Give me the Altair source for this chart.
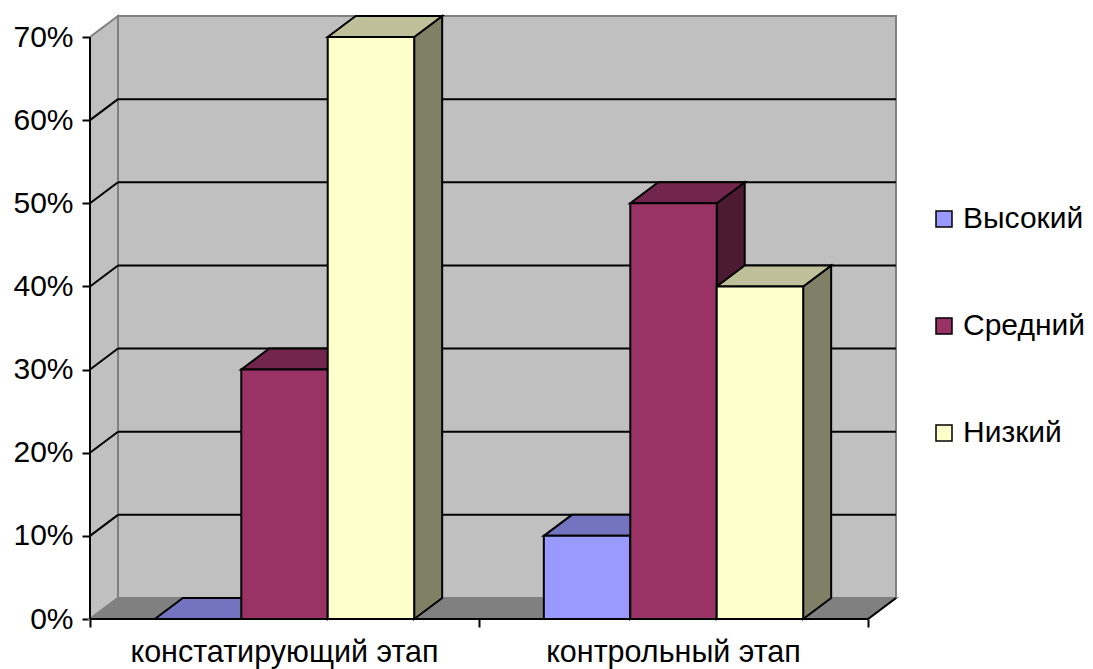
import altair as alt
import pandas as pd

# ---- data -------------------------------------------------------------
categories = ["констатирующий этап", "контрольный этап"]
series = ["Высокий", "Средний", "Низкий"]
vysokiy = [0, 10]
sredniy = [30, 50]
nizkiy = [70, 40]
y_ticks = [0, 10, 20, 30, 40, 50, 60, 70]

# face colours: front, top (darker), side (darkest)
front_colors = ["#9999FF", "#993366", "#FFFFCC"]
top_colors = ["#7373BF", "#73264D", "#BFBF99"]
side_colors = ["#4D4D80", "#4D1A33", "#808066"]

# ---- 3-D geometry in data units ---------------------------------------
Y_MAX = 70
DX = 28 / 389          # depth shift along x (category units)
DY = 2.526             # depth shift along y (percent units)
GAP = 0.75 / 4.5       # half gap on each side of a bar cluster
BW = 1 / 4.5           # bar width
NCAT = len(categories)
FONT = "Liberation Sans"

values = [vysokiy, sredniy, nizkiy]

fronts, tops, sides = [], [], []
for ci in range(NCAT):
    for si, name in enumerate(series):
        v = values[si][ci]
        x0 = ci + GAP + si * BW
        x1 = x0 + BW
        key = f"{ci}-{si}"
        fronts.append({"x0": x0, "x1": x1, "y0": 0, "v": v, "series": name})
        for x, y, y2 in [(x0, v, v), (x0 + DX, v, v + DY),
                         (x1, v, v + DY), (x1 + DX, v + DY, v + DY)]:
            tops.append({"x": x, "y": y, "y2": y2, "face": key, "c": top_colors[si]})
        for x, y, y2 in [(x1, 0, v), (x1 + DX, DY, v + DY)]:
            sides.append({"x": x, "y": y, "y2": y2, "face": key, "c": side_colors[si]})

front_df = pd.DataFrame(fronts)
top_df = pd.DataFrame(tops)
side_df = pd.DataFrame(sides)

xs = alt.Scale(domain=[0, NCAT + DX], nice=False, zero=False)
ys = alt.Scale(domain=[0, Y_MAX + DY], nice=False, zero=False)

# front axes: ticks on the category boundaries and percent labels
x_axis = alt.Axis(values=list(range(NCAT + 1)), labels=False, domain=False, grid=False,
                  tickSize=8, tickColor="black", tickWidth=2, title=None)
y_axis = alt.Axis(values=y_ticks, labelExpr="datum.value + '%'", domain=False, grid=False,
                  tickSize=8, tickColor="black", tickWidth=2, title=None,
                  labelFontSize=30, labelFont=FONT, labelColor="black", labelPadding=9)


def X(field, **kw):
    return alt.X(field, type="quantitative", scale=xs, axis=x_axis, **kw)


def Y(field, **kw):
    return alt.Y(field, type="quantitative", scale=ys, axis=y_axis, **kw)


# back wall
back_wall = alt.Chart(pd.DataFrame([{"a": DX, "b": NCAT + DX, "c": DY, "d": Y_MAX + DY}])).mark_rect(
    fill="#C0C0C0", stroke="#808080", strokeWidth=2
).encode(x=X("a"), x2="b", y=Y("c"), y2="d")

# left wall
left_wall = alt.Chart(pd.DataFrame([
    {"x": 0, "y": 0, "y2": Y_MAX}, {"x": DX, "y": DY, "y2": Y_MAX + DY}
])).mark_area(fill="#C0C0C0", stroke="#808080", strokeWidth=2).encode(
    x=X("x"), y=Y("y"), y2="y2")

# floor
floor = alt.Chart(pd.DataFrame([
    {"x": 0, "y": 0, "y2": 0}, {"x": DX, "y": 0, "y2": DY},
    {"x": NCAT, "y": 0, "y2": DY}, {"x": NCAT + DX, "y": DY, "y2": DY}
])).mark_area(fill="#808080", stroke="#808080", strokeWidth=2).encode(
    x=X("x"), y=Y("y"), y2="y2")

grid_vals = [t for t in y_ticks if 0 < t < Y_MAX]
grid_df = pd.DataFrame({"g": grid_vals, "gb": [g + DY for g in grid_vals],
                        "xa": [DX] * len(grid_vals), "xb": [NCAT + DX] * len(grid_vals),
                        "x0": [0] * len(grid_vals)})
back_grid = alt.Chart(grid_df).mark_rule(color="black", strokeWidth=2).encode(
    x=X("xa"), x2="xb", y=Y("gb"))
side_grid = alt.Chart(grid_df).mark_rule(color="black", strokeWidth=2).encode(
    x=X("x0"), x2="xa", y=Y("g"), y2="gb")

# bars
side_faces = alt.Chart(side_df).mark_area(stroke="black", strokeWidth=2).encode(
    x=X("x"), y=Y("y"), y2="y2", detail="face:N", color=alt.Color("c:N", scale=None))
top_faces = alt.Chart(top_df).mark_area(stroke="black", strokeWidth=2).encode(
    x=X("x"), y=Y("y"), y2="y2", detail="face:N", color=alt.Color("c:N", scale=None))
front_faces = alt.Chart(front_df).mark_rect(stroke="black", strokeWidth=2).encode(
    x=X("x0"), x2="x1", y=Y("y0"), y2="v",
    fill=alt.Fill("series:N", scale=alt.Scale(domain=series, range=front_colors),
                  sort=series,
                  legend=alt.Legend(orient="none", legendX=839, legendY=188, title=None,
                                    symbolType="square", symbolSize=256,
                                    symbolStrokeColor="black", symbolStrokeWidth=1.5,
                                    labelFontSize=30, labelFont=FONT, labelColor="black",
                                    rowPadding=77, labelOffset=4, padding=0)))

# floor right edge
floor_edge = alt.Chart(pd.DataFrame([{"a": NCAT, "b": NCAT + DX, "c": 0, "d": DY}])).mark_rule(
    color="black", strokeWidth=2).encode(x=X("a"), x2="b", y=Y("c"), y2="d")

# value axis line and base line
axes_df = pd.DataFrame([{"x": 0, "x2": NCAT, "y": 0, "y2": Y_MAX}])
y_axis_line = alt.Chart(axes_df).mark_rule(color="black", strokeWidth=2).encode(
    x=X("x"), y=Y("y"), y2="y2")
base_line = alt.Chart(axes_df).mark_rule(color="black", strokeWidth=2).encode(
    x=X("x"), x2="x2", y=Y("y"))

cat_df = pd.DataFrame({"cat": categories, "cx": [i + 0.5 for i in range(NCAT)], "y": [0] * NCAT})
cat_labels = alt.Chart(cat_df).mark_text(
    fontSize=30.5, font=FONT, color="black", baseline="alphabetic", dy=43
).encode(x=X("cx"), y=Y("y"), text="cat:N")

chart = alt.layer(
    back_wall, left_wall, floor, back_grid, side_grid,
    side_faces, top_faces, front_faces, floor_edge,
    y_axis_line, base_line, cat_labels
).properties(
    width=806, height=603,
    autosize=alt.AutoSizeParams(type="none"),
    padding={"left": 90, "top": 16, "right": 197, "bottom": 50},
    background="white",
).configure_view(stroke=None)

chart.save("out.html", embed_options={"renderer": "svg", "actions": False})
